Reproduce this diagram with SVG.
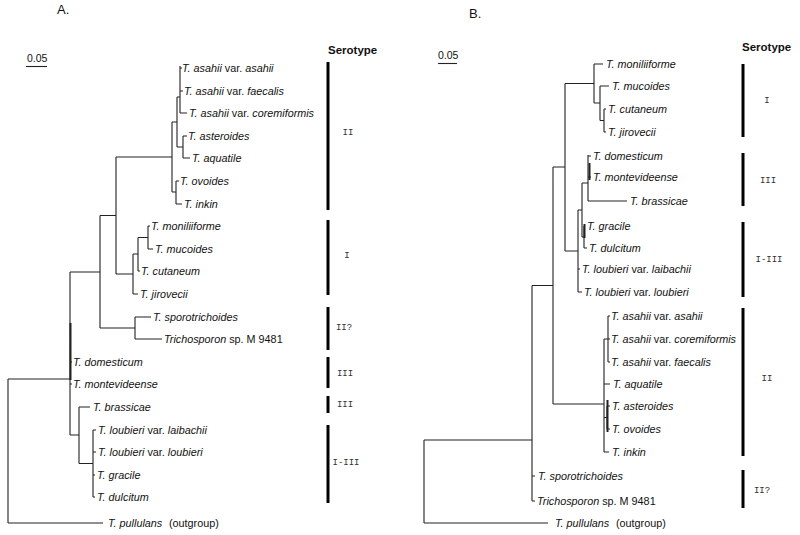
<svg xmlns="http://www.w3.org/2000/svg" width="800" height="535" viewBox="0 0 800 535">
<style>
text{font-family:"Liberation Sans",Arial,sans-serif;fill:#111}
.t{font-size:10.8px}
.i{font-style:italic}
.br{fill:none;stroke:#222;stroke-width:1.1}
.thick{fill:none;stroke:#222;stroke-width:2}
.bar{fill:none;stroke:#000;stroke-width:3}
.sl{font-family:"Liberation Mono","Courier New",monospace;font-size:9px;fill:#333;text-anchor:middle}
.hd{font-size:11.5px;font-weight:bold}
.pl{font-size:13px}
.sc{font-size:10.5px}
</style>
<rect width="800" height="535" fill="#fff"/>

<!-- Panel A headers -->
<text class="pl" x="57" y="14">A.</text>
<text class="sc" x="27" y="62">0.05</text>
<line class="br" x1="26" y1="66.5" x2="47" y2="66.5"/>
<text class="hd" x="328" y="54">Serotype</text>

<!-- Panel B headers -->
<text class="pl" x="469" y="18">B.</text>
<text class="sc" x="438" y="59">0.05</text>
<line class="br" x1="438" y1="63.5" x2="457" y2="63.5"/>
<text class="hd" x="742" y="51">Serotype</text>

<g id="connectors">
<!-- Panel A -->
<path class="br" d="M180,66V113 M180,68H182 M180,91H183 M180,113H187
M183,136V158 M183,136H187 M183,158H190
M177,97V147 M177,97H180 M177,147H183
M176,181V204 M176,181H179 M176,204H182
M172,122V192 M172,122H177 M172,192H176
M148,226V249 M148,226H150 M148,249H153
M138,237.5V271 M138,237.5H148 M138,271H140
M133,254V294 M133,254H138 M133,294H138
M116,157V274 M116,157H172 M116,274H133
M135,317V339 M135,317H151 M135,339H162
M100,215.5V328 M100,215.5H116 M100,328H135
M93,430V497 M93,430H96 M93,452H96 M93,475H95 M93,497H95
M79,407V463.5 M79,407H90 M79,463.5H93
M70,272V435 M70,272H100 M70,435H79 M70,362H72 M70,384H72
M8,379V523 M8,379H70 M8,523H103"/>
<path class="thick" d="M70.5,323V380"/>
<!-- Panel B -->
<path class="br" d="M604,109V132 M604,109H606 M604,132H606
M600,86V120.5 M600,86H609 M600,120.5H604
M594,64V103 M594,64H603 M594,103H600
M588,155V201 M588,156H591 M588,177H591 M588,201H627
M584,226V248 M584,226H585 M584,248H587
M582,183V237 M582,183H588 M582,237H584
M578,210V292 M578,210H582 M578,269H580 M578,292H582
M565,83.5V251 M565,83.5H594 M565,251H578
M608,316V362 M608,316H610 M608,339H610 M608,362H610
M607,406V429 M607,406H610 M607,429H610
M604,339V452 M604,339H608 M604,384H610 M604,417.5H607 M604,452H609
M553,167V404 M553,167H565 M553,404H604
M532,285.5V501 M532,285.5H553 M532,476H535 M532,501H535
M424,440V523 M424,440H532 M424,523H548"/>
<path class="thick" d="M589.5,163V180 M584.5,224V238 M607.5,400V432"/>
</g>

<!-- Serotype bars A -->
<g id="serotype-A">
<path class="bar" d="M328,62V210 M328,220V295 M328,307V350 M328,357V388 M328,396V413 M328,425V503"/>
<text class="sl" x="348" y="135">II</text>
<text class="sl" x="347" y="258">I</text>
<text class="sl" x="344" y="330">II?</text>
<text class="sl" x="345" y="376">III</text>
<text class="sl" x="345" y="407">III</text>
<text class="sl" x="346" y="465">I-III</text>
</g>
<!-- Serotype bars B -->
<g id="serotype-B">
<path class="bar" d="M743,64V137 M743,153V206 M743,222V297 M743,308V456 M743,470V508"/>
<text class="sl" x="767" y="103">I</text>
<text class="sl" x="768" y="183">III</text>
<text class="sl" x="769" y="262">I-III</text>
<text class="sl" x="767" y="381">II</text>
<text class="sl" x="762" y="493">II?</text>
</g>

<!-- Panel A leaves -->
<g id="A-asahii"><text class="t" x="182" y="72"><tspan class="i">T. asahii</tspan> var. <tspan class="i">asahii</tspan></text></g>
<g id="A-faecalis"><text class="t" x="184" y="95"><tspan class="i">T. asahii</tspan> var. <tspan class="i">faecalis</tspan></text></g>
<g id="A-coremiformis"><text class="t" x="189" y="117"><tspan class="i">T. asahii</tspan> var. <tspan class="i">coremiformis</tspan></text></g>
<g id="A-asteroides"><text class="t i" x="188" y="140">T. asteroides</text></g>
<g id="A-aquatile"><text class="t i" x="192" y="162">T. aquatile</text></g>
<g id="A-ovoides"><text class="t i" x="180" y="185">T. ovoides</text></g>
<g id="A-inkin"><text class="t i" x="184" y="208">T. inkin</text></g>
<g id="A-moniliiforme"><text class="t i" x="151" y="230">T. moniliiforme</text></g>
<g id="A-mucoides"><text class="t i" x="155" y="253">T. mucoides</text></g>
<g id="A-cutaneum"><text class="t i" x="141" y="275">T. cutaneum</text></g>
<g id="A-jirovecii"><text class="t i" x="140" y="298">T. jirovecii</text></g>
<g id="A-sporotrichoides"><text class="t i" x="153" y="321">T. sporotrichoides</text></g>
<g id="A-M9481"><text class="t" x="164" y="343"><tspan class="i">Trichosporon</tspan> sp. M 9481</text></g>
<g id="A-domesticum"><text class="t i" x="73" y="366">T. domesticum</text></g>
<g id="A-montevideense"><text class="t i" x="73" y="388">T. montevideense</text></g>
<g id="A-brassicae"><text class="t i" x="93" y="411">T. brassicae</text></g>
<g id="A-laibachii"><text class="t" x="98" y="434"><tspan class="i">T. loubieri</tspan> var. <tspan class="i">laibachii</tspan></text></g>
<g id="A-loubieri"><text class="t" x="98" y="456"><tspan class="i">T. loubieri</tspan> var. <tspan class="i">loubieri</tspan></text></g>
<g id="A-gracile"><text class="t i" x="97" y="479">T. gracile</text></g>
<g id="A-dulcitum"><text class="t i" x="97" y="501">T. dulcitum</text></g>
<g id="A-pullulans"><text class="t" x="108" y="527"><tspan class="i">T. pullulans</tspan></text><text class="t" x="169" y="527">(outgroup)</text></g>

<!-- Panel B leaves -->
<g id="B-moniliiforme"><text class="t i" x="606" y="68">T. moniliiforme</text></g>
<g id="B-mucoides"><text class="t i" x="612" y="90">T. mucoides</text></g>
<g id="B-cutaneum"><text class="t i" x="608" y="113">T. cutaneum</text></g>
<g id="B-jirovecii"><text class="t i" x="608" y="136">T. jirovecii</text></g>
<g id="B-domesticum"><text class="t i" x="593" y="160">T. domesticum</text></g>
<g id="B-montevideense"><text class="t i" x="593" y="181">T. montevideense</text></g>
<g id="B-brassicae"><text class="t i" x="630" y="205">T. brassicae</text></g>
<g id="B-gracile"><text class="t i" x="587" y="230">T. gracile</text></g>
<g id="B-dulcitum"><text class="t i" x="589" y="252">T. dulcitum</text></g>
<g id="B-laibachii"><text class="t" x="582" y="273"><tspan class="i">T. loubieri</tspan> var. <tspan class="i">laibachii</tspan></text></g>
<g id="B-loubieri"><text class="t" x="584" y="296"><tspan class="i">T. loubieri</tspan> var. <tspan class="i">loubieri</tspan></text></g>
<g id="B-asahii"><text class="t" x="611" y="320"><tspan class="i">T. asahii</tspan> var. <tspan class="i">asahii</tspan></text></g>
<g id="B-coremiformis"><text class="t" x="611" y="343"><tspan class="i">T. asahii</tspan> var. <tspan class="i">coremiformis</tspan></text></g>
<g id="B-faecalis"><text class="t" x="611" y="366"><tspan class="i">T. asahii</tspan> var. <tspan class="i">faecalis</tspan></text></g>
<g id="B-aquatile"><text class="t i" x="613" y="388">T. aquatile</text></g>
<g id="B-asteroides"><text class="t i" x="612" y="410">T. asteroides</text></g>
<g id="B-ovoides"><text class="t i" x="612" y="433">T. ovoides</text></g>
<g id="B-inkin"><text class="t i" x="612" y="456">T. inkin</text></g>
<g id="B-sporotrichoides"><text class="t i" x="538" y="480">T. sporotrichoides</text></g>
<g id="B-M9481"><text class="t" x="537" y="505"><tspan class="i">Trichosporon</tspan> sp. M 9481</text></g>
<g id="B-pullulans"><text class="t" x="555" y="527"><tspan class="i">T. pullulans</tspan></text><text class="t" x="616" y="527">(outgroup)</text></g>
</svg>
